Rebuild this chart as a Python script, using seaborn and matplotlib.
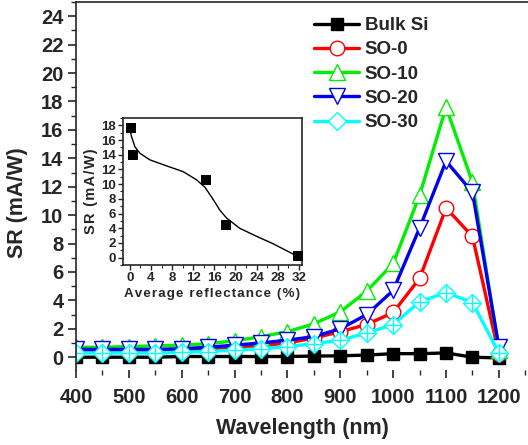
import numpy as np
import pandas as pd
import matplotlib
matplotlib.use("Agg")
import matplotlib.pyplot as plt
from matplotlib.ticker import MultipleLocator
import seaborn as sns

# ---------------- data ----------------
wavelength = [400, 450, 500, 550, 600, 650, 700, 750, 800, 850, 900, 950, 1000, 1050, 1100, 1150, 1200]
bulk_si = [0.0, 0.0, 0.0, 0.0, 0.05, 0.05, 0.05, 0.05, 0.05, 0.08, 0.1, 0.15, 0.25, 0.25, 0.3, 0.0, -0.05]
so_0 = [0.4, 0.4, 0.4, 0.4, 0.45, 0.5, 0.65, 0.8, 1.0, 1.35, 1.8, 2.3, 3.15, 5.55, 10.5, 8.5, 0.2]
so_10 = [0.7, 0.7, 0.75, 0.8, 0.85, 0.95, 1.15, 1.45, 1.8, 2.35, 3.2, 4.65, 6.6, 11.4, 17.6, 12.3, 0.5]
so_20 = [0.55, 0.55, 0.55, 0.55, 0.6, 0.7, 0.85, 1.0, 1.2, 1.45, 2.0, 3.0, 4.7, 9.1, 13.8, 11.6, 0.7]
so_30 = [0.3, 0.3, 0.3, 0.3, 0.35, 0.4, 0.5, 0.6, 0.75, 0.95, 1.2, 1.7, 2.3, 3.9, 4.55, 3.85, 0.3]
series_names = ["Bulk Si", "SO-0", "SO-10", "SO-20", "SO-30"]

inset_refl = [0.2, 0.6, 14.4, 18.2, 31.9]
inset_sr = [17.7, 14.0, 10.6, 4.5, 0.2]
fit_refl = [0.0, 0.3, 0.95, 1.9, 3.8, 6.9, 10.1, 12.6, 14.2, 15.8, 17.0, 18.3, 20.8, 24.0, 27.1, 30.9, 31.6]
fit_sr = [17.6, 16.5, 15.1, 14.2, 13.3, 12.5, 11.7, 10.6, 9.6, 7.9, 6.5, 5.4, 4.0, 2.9, 1.9, 0.5, 0.35]


def spaced(text):
    # widen letter spacing with hair spaces (keeps word gaps)
    return "\u200a".join(text)


# ---------------- style ----------------
sns.set_style("ticks")
plt.rcParams["font.family"] = ["Liberation Sans", "DejaVu Sans"]
plt.rcParams["font.weight"] = "bold"
plt.rcParams["axes.labelweight"] = "bold"

fig = plt.figure(figsize=(5.28, 4.45), dpi=100)
ax = fig.add_axes([76 / 528, 1 - 370 / 445, 1 - 76 / 528, (370 - 2) / 445])

styles = {
    "Bulk Si": dict(color="#000000", marker="s", ms=8.5, mfc="#000000", mec="#000000"),
    "SO-0": dict(color="#ff0000", marker="o", ms=10.5, mfc="white", mec="#ff0000"),
    "SO-10": dict(color="#00ee00", marker="^", ms=12, mfc="white", mec="#00ee00"),
    "SO-20": dict(color="#0000ee", marker="v", ms=12, mfc="white", mec="#0000ee"),
    "SO-30": dict(color="#00ffff", marker="D", ms=9, mfc="white", mec="#00ffff"),
}
values = {"Bulk Si": bulk_si, "SO-0": so_0, "SO-10": so_10, "SO-20": so_20, "SO-30": so_30}

for name in series_names:
    st = styles[name]
    sns.lineplot(x=wavelength, y=values[name], ax=ax, color=st["color"], lw=2.4,
                 marker=st["marker"], markersize=st["ms"], mfc=st["mfc"],
                 mec=st["mec"], mew=1.0, label=name)
    if name == "SO-30":
        sns.lineplot(x=wavelength, y=values[name], ax=ax, color=st["color"], lw=0,
                     marker="+", markersize=12, mec=st["mec"], mew=1.0, legend=False)

ax.set_xlim(400, 1255)
ax.set_ylim(-0.9, 25.0)
ax.xaxis.set_major_locator(MultipleLocator(100))
ax.xaxis.set_minor_locator(MultipleLocator(50))
ax.yaxis.set_major_locator(MultipleLocator(2))
ax.yaxis.set_minor_locator(MultipleLocator(1))
ax.spines["right"].set_visible(False)
ax.spines["bottom"].set_visible(False)
ax.spines["left"].set_linewidth(1.2)
ax.spines["top"].set_linewidth(1.2)
ax.tick_params(axis="both", which="major", direction="out", length=6, width=1.2,
               labelsize=14.5, pad=3)
ax.tick_params(axis="both", which="minor", direction="out", length=3.5, width=1.0)
ax.tick_params(axis="x", which="both", pad=7)
for lab in ax.get_xticklabels() + ax.get_yticklabels():
    lab.set_fontweight("bold")
ax.set_xlabel("Wavelength (nm)", fontsize=15.5, fontweight="bold", labelpad=8)
ax.set_ylabel("SR (mA/W)", fontsize=15.5, fontweight="bold")
ax.yaxis.set_label_coords(-0.106, 0.455)

leg = ax.legend(loc="upper left", bbox_to_anchor=(314 / 528, 1 - 17 / 445),
                bbox_transform=fig.transFigure, frameon=False, fontsize=13.5,
                handlelength=2.4, handletextpad=0.3, labelspacing=0.38,
                borderpad=0, borderaxespad=0)
for t in leg.get_texts():
    t.set_fontweight("bold")

# ---------------- inset ----------------
axi = fig.add_axes([123 / 528, 1 - 265 / 445, (302 - 123) / 528, (265 - 118) / 445])
sns.lineplot(x=fit_refl, y=fit_sr, ax=axi, color="black", lw=1.0)
sns.scatterplot(x=inset_refl, y=inset_sr, ax=axi, color="black", marker="s", s=55,
                edgecolor="black", linewidth=0, zorder=3, clip_on=True)
axi.set_xlim(-1.3, 32.6)
axi.set_ylim(-1.0, 19.0)
axi.xaxis.set_major_locator(MultipleLocator(4))
axi.xaxis.set_minor_locator(MultipleLocator(2))
axi.yaxis.set_major_locator(MultipleLocator(2))
axi.yaxis.set_minor_locator(MultipleLocator(1))
for s in axi.spines.values():
    s.set_linewidth(1.2)
axi.tick_params(axis="both", which="major", direction="out", length=3.5, width=1.0,
                labelsize=9.5, pad=1.5)
axi.tick_params(axis="both", which="minor", direction="out", length=2, width=0.8)
for lab in axi.get_xticklabels() + axi.get_yticklabels():
    lab.set_fontweight("bold")
axi.set_xlabel(spaced("Average reflectance (%)"), fontsize=9.6, fontweight="bold", labelpad=3)
axi.set_ylabel(spaced("SR (mA/W)"), fontsize=10.5, fontweight="bold", labelpad=2)

fig.savefig("out.png", dpi=100)
